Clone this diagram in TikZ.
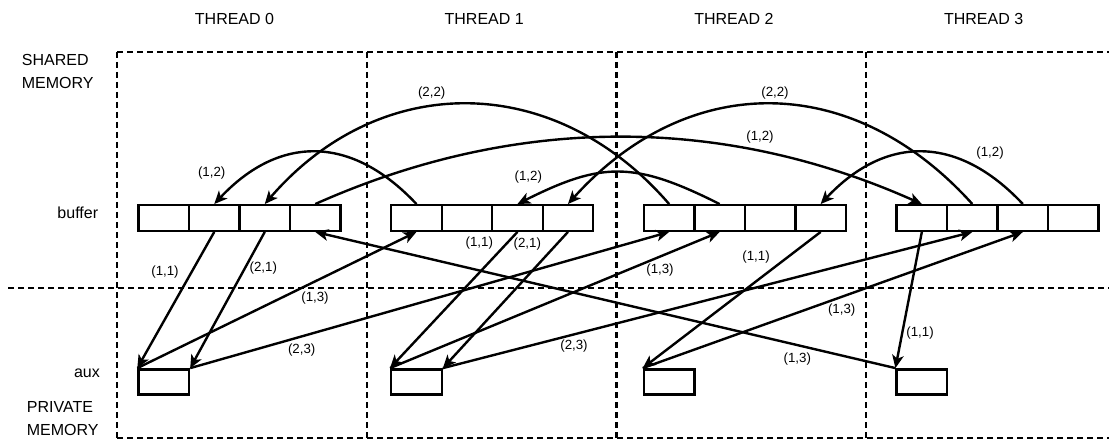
\documentclass[tikz,border=0pt]{standalone}
\usepackage{fontspec}
\setmainfont{Liberation Sans}
\usetikzlibrary{arrows.meta,positioning}

\begin{document}
\begin{tikzpicture}[
  x=1pt, y=-1pt,
  cell/.style={draw, line width=2.4pt, minimum width=50.5pt, minimum height=25.5pt, inner sep=0pt},
  arr/.style={-{Stealth[length=13pt, width=11.5pt, inset=3.5pt]}, line width=2.4pt},
  sep/.style={line width=2.4pt, dash pattern=on 6pt off 4pt},
  txt/.style={font=\fontsize{16}{23}\selectfont, inner sep=0pt},
  lbl/.style={font=\fontsize{13.3}{16}\selectfont, inner sep=0pt}
]
\useasboundingbox (0,0) rectangle (1109,441);

% memory regions
\draw[sep] (117,52) -- (1109,52);
\draw[sep] (8,288) -- (1109,288);
\draw[sep] (117,438) -- (1109,438);
\foreach \k in {0,...,3}
  \draw[sep] ({117+249.7*\k},52) -- ({117+249.7*\k},438);

\node[txt, anchor=west, align=left] (shared) at (21.7,71.4) {SHARED\\MEMORY};
\node[txt, anchor=west, align=left] (private) at (26.7,418.8) {PRIVATE\\MEMORY};
\node[txt, anchor=base east] (buflbl) at (98.3,218.3) {buffer};
\node[txt, anchor=base east] (auxlbl) at (100,377.7) {aux};

% threads: buffer cells and aux
\foreach \t in {0,...,3} {
  \node[txt, anchor=base] (th\t) at ({234.5+249.7*\t},24.3) {THREAD \t};
  \foreach \c in {0,...,3}
    \node[cell] (b\t\c) at ({163.75+252.7*\t+50.5*\c},218) {};
  \node[cell, minimum height=25pt] (a\t) at ({163.75+252.7*\t},381.8) {};
}

% buffer <-> aux
\foreach \s/\d/\x/\y/\l [count=\i] in {
  b01.south/a0.north west/165/272/{(1,1)},
  b02.south/a0.north east/263.3/268.3/{(2,1)},
  a0.north west/b10.south/315/297.7/{(1,3)},
  a0.north east/b20.south/301.7/350/{(2,3)},
  b12.south/a1.north west/479.3/242.7/{(1,1)},
  b13.south/a1.north east/527.3/244/{(2,1)},
  a1.north west/b21.south/660/270/{(1,3)},
  a1.north east/b31.south/574/345.7/{(2,3)},
  b23.south/a2.north west/756/257.3/{(1,1)},
  a2.north west/b32.south/841.7/310/{(1,3)},
  a3.north west/b03.south/797.3/359.3/{(1,3)},
  b30.south/a3.north west/920/333.3/{(1,1)}}
{
  \draw[arr] (\s) -- (\d);
  \node[lbl] (e\i) at (\x,\y) {\l};
}

% buffer -> buffer
\draw[arr] (b10.north) .. controls +(-65,-69.3) and +(65,-69.3) .. (b01.north);
\draw[arr] (b20.north) .. controls +(-115,-133.3) and +(115,-133.3) .. (b02.north);
\draw[arr] (b03.north) .. controls +(200,-89.3) and +(-200,-89.3) .. (b30.north);
\draw[arr] (b21.north) .. controls +(-85,-42.7) and +(85,-42.7) .. (b12.north);
\draw[arr] (b31.north) .. controls +(-120,-133.3) and +(120,-133.3) .. (b13.north);
\draw[arr] (b32.north) .. controls +(-65,-69.3) and +(65,-69.3) .. (b23.north);

\node[lbl] (u1) at (211.7,173) {(1,2)};
\node[lbl] (u2) at (431.7,92.7) {(2,2)};
\node[lbl] (u3) at (760,136.7) {(1,2)};
\node[lbl] (u4) at (528.3,176.7) {(1,2)};
\node[lbl] (u5) at (775,92.7) {(2,2)};
\node[lbl] (u6) at (990,153.3) {(1,2)};
\end{tikzpicture}
\end{document}
